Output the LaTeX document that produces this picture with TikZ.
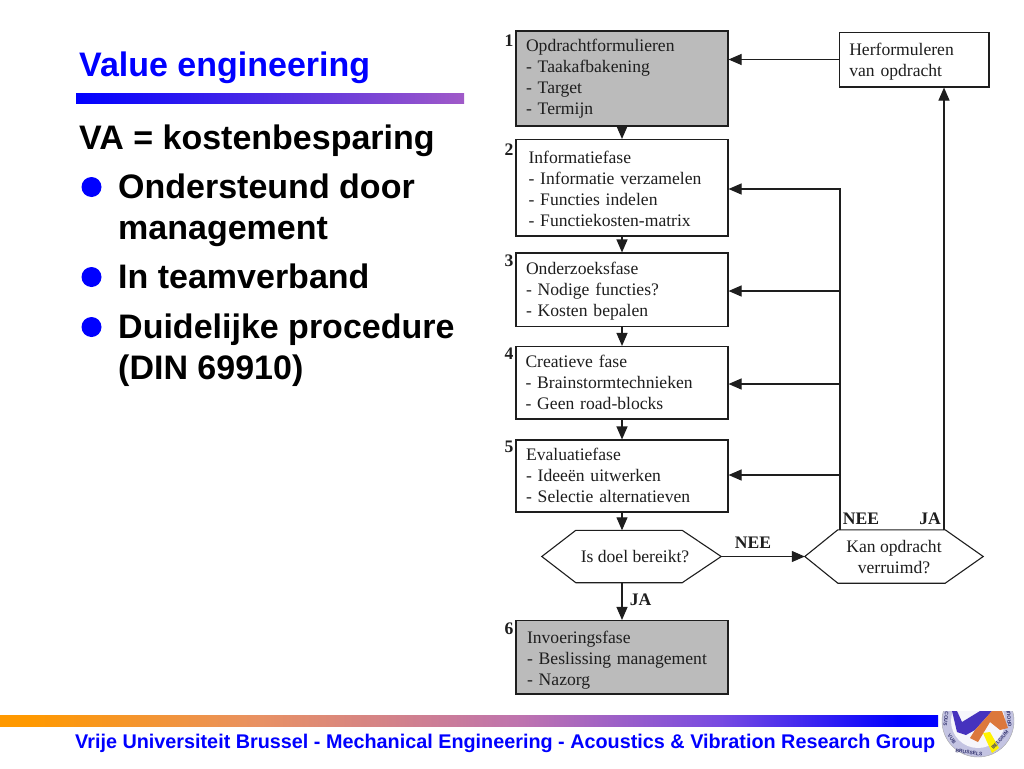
\documentclass[tikz,border=0pt]{standalone}
\usepackage{fontspec}
\setmainfont{Liberation Serif}
\newfontfamily\arialf{Liberation Sans}
\usetikzlibrary{arrows.meta,calc}
\definecolor{barblue}{RGB}{0,0,255}
\definecolor{barpurple}{RGB}{160,90,200}
\definecolor{barorange}{RGB}{255,153,0}
\definecolor{barsalmon}{RGB}{232,145,100}
\definecolor{barpink}{RGB}{190,115,175}
\definecolor{barviolet}{RGB}{120,75,225}
\definecolor{boxgrey}{RGB}{187,187,187}
\definecolor{ink}{RGB}{30,30,30}
\definecolor{logoring}{RGB}{196,196,226}
\definecolor{logotext}{RGB}{50,50,110}
\definecolor{logoblue}{RGB}{70,50,190}
\definecolor{logoorange}{RGB}{220,120,60}
\pgfdeclarehorizontalshading{footbar}{100bp}{color(0bp)=(barorange); color(26.6bp)=(barorange); color(38.9bp)=(barsalmon); color(52.8bp)=(barpink); color(63.3bp)=(barviolet); color(73bp)=(barblue); color(100bp)=(barblue)}
\tikzset{
 x=1pt,y=-1pt,
 stepbox/.style={draw=ink,line width=1.1pt,fill=white,minimum width=212pt,text width=212pt-2*#1,inner xsep=#1,inner ysep=0pt,align=left,font=\fontsize{17.6}{21}\selectfont,text=ink,anchor=center},
 greybox/.style={fill=boxgrey},
 link/.style={draw=ink,line width=1.1pt,-{Triangle[length=13pt,width=11pt]}},
 plain/.style={draw=ink,line width=1.1pt},
 stepnum/.style={font=\fontsize{17.6}{18}\bfseries\selectfont,text=ink,inner sep=0pt},
 answer/.style={font=\fontsize{17.6}{18}\bfseries\selectfont,text=ink,inner sep=0pt},
 hextext/.style={font=\fontsize{17.6}{21}\selectfont,text=ink,align=center,inner sep=0pt},
 headline/.style={font=\arialf\fontsize{34}{38}\bfseries\selectfont,text=barblue,anchor=base west,inner sep=0pt},
 bodyline/.style={font=\arialf\fontsize{34}{38}\bfseries\selectfont,text=black,anchor=base west,inner sep=0pt},
 bulletdot/.style={circle,fill=barblue,minimum size=20pt,inner sep=0pt},
 footline/.style={font=\arialf\fontsize{19.8}{22}\bfseries\selectfont,text=barblue,anchor=base west,inner sep=0pt},
 logoword/.style={font=\arialf\fontsize{5}{6}\bfseries\selectfont,text=logotext,inner sep=0pt},
}
\begin{document}
\begin{tikzpicture}
\useasboundingbox (0,0) rectangle (1024,768);
\fill[white] (0,0) rectangle (1024,768);
% left column
\node[headline] (title) at (79,76) {Value engineering};
\fill[left color=barblue,right color=barpurple] (76,93) rectangle (464,103);
\node[bodyline] (va) at (79,149) {VA = kostenbesparing};
\node[bulletdot] (d1) at (91.5,187) {};
\node[bodyline] (l1) at (118,198) {Ondersteund door};
\node[bodyline] (l1b) at (118,239) {management};
\node[bulletdot] (d2) at (91.5,277) {};
\node[bodyline] (l2) at (118,288) {In teamverband};
\node[bulletdot] (d3) at (91.5,327) {};
\node[bodyline] (l3) at (118,338) {Duidelijke procedure};
\node[bodyline] (l3b) at (118,379) {(DIN 69910)};
% step boxes
\node[stepbox=10pt,greybox,minimum height=95pt] (b1) at (622,78.5) {Opdrachtformulieren\\- Taakafbakening\\- Target\\- Termijn};
\node[stepbox=12.5pt,minimum height=96.5pt] (b2) at (622,187.75) {\rule{0pt}{15pt}Informatiefase\\- Informatie verzamelen\\- Functies indelen\\- Functiekosten-matrix};
\node[stepbox=10pt,minimum height=73.5pt] (b3) at (622,289.75) {\rule{0pt}{16pt}Onderzoeksfase\\- Nodige functies?\\- Kosten bepalen};
\node[stepbox=9.5pt,minimum height=72.5pt] (b4) at (622,382.75) {Creatieve fase\\- Brainstormtechnieken\\- Geen road-blocks};
\node[stepbox=10pt,minimum height=72pt] (b5) at (622,476) {Evaluatiefase\\- Ideeën uitwerken\\- Selectie alternatieven\rule[-2.2pt]{0pt}{0pt}};
\node[stepbox=11pt,greybox,minimum height=73.5pt] (b6) at (622,657.25) {\rule{0pt}{18pt}Invoeringsfase\\- Beslissing management\\- Nazorg};
\node[draw=ink,line width=1.1pt,fill=white,minimum width=149.5pt,minimum height=54.5pt,text width=130pt,inner xsep=9.75pt,inner ysep=0pt,align=left,font=\fontsize{17.6}{21}\selectfont,text=ink] (hf) at (914.25,59.75) {\rule{0pt}{16pt}Herformuleren\\van opdracht};
% step numbers
\node[stepnum] (n1) at (509,41) {1};
\node[stepnum] (n2) at (509,150) {2};
\node[stepnum] (n3) at (509,261) {3};
\node[stepnum] (n4) at (509,354) {4};
\node[stepnum] (n5) at (509,447) {5};
\node[stepnum] (n6) at (509,629) {6};
% decisions
\node[minimum width=179pt,minimum height=52pt,inner sep=0pt] (h1) at (631.5,556.5) {};
\node[minimum width=178pt,minimum height=53pt,inner sep=0pt] (h2) at (894,556.5) {};
\draw[plain,fill=white,line join=miter] (h1.west) -- ($(h1.north west)+(34,0)$) -- ($(h1.north east)+(-39,0)$) -- (h1.east) -- ($(h1.south east)+(-39,0)$) -- ($(h1.south west)+(34,0)$) -- cycle;
\draw[plain,fill=white,line join=miter] (h2.west) -- ($(h2.north west)+(33,0)$) -- ($(h2.north east)+(-38,0)$) -- (h2.east) -- ($(h2.south east)+(-38,0)$) -- ($(h2.south west)+(33,0)$) -- cycle;
\node[hextext] (h1t) at (635,556.5) {Is doel bereikt?};
\node[hextext] (h2t) at (894,557) {Kan opdracht\\verruimd?};
% main flow
\draw[link] (b1.south) -- (b2.north);
\draw[link] (b2.south) -- (b3.north);
\draw[link] (b3.south) -- (b4.north);
\draw[link] (b4.south) -- (b5.north);
\draw[link] (b5.south) -- (b5.south |- h1.north);
\draw[link] (b6.north |- h1.south) -- (b6.north);
\draw[link] (h1.east) -- (h2.west);
% feedback
\coordinate (ne) at (840,530);
\coordinate (ja) at (944,530);
\coordinate (t2) at (840,189);
\coordinate (t3) at (840,291);
\coordinate (t4) at (840,384);
\coordinate (t5) at (840,475);
\coordinate (t1) at (839.5,59.5);
\draw[link] (ne) -- (t2) -- (t2 -| b2.east);
\draw[link] (t3) -- (t3 -| b3.east);
\draw[link] (t4) -- (t4 -| b4.east);
\draw[link] (t5) -- (t5 -| b5.east);
\draw[link] (t1) -- (t1 -| b1.east);
\draw[link] (ja) -- (ja |- hf.south);
% answers
\node[answer] (a1) at (753,543) {NEE};
\node[answer] (a2) at (640.5,600) {JA};
\node[answer] (a3) at (861,519) {NEE};
\node[answer] (a4) at (930,519) {JA};
% footer
\fill[shading=footbar] (0,715) rectangle (938,726);
\node[footline] (foot) at (75,748) {Vrije Universiteit Brussel - Mechanical Engineering - Acoustics \& Vibration Research Group};
% logo
\begin{scope}
\clip (930,711) rectangle (1024,768);
\fill[logoring,draw=gray!70] (978,721) circle (36);
\fill[white!85!logoring] (978,721) circle (27);
\fill[logoblue] (952,711) -- (957,711) -- (962,722) -- (980,711) -- (992,711) -- (975,730) -- (966,735) -- (957,732) -- cycle;
\fill[logoorange] (975,730) -- (992,711) -- (1002,711) -- (1008,728) -- (1000,730) -- (990,722) -- (978,742) -- (970,738) -- cycle;
\fill[yellow] (983,733) -- (990,732) -- (999,748) -- (992,753) -- cycle;
\node[logoword,rotate=-97] (lw1) at (946.2,717) {ACOUS};
\node[logoword,rotate=-55] (lw2) at (951.8,739) {VUB};
\node[logoword,rotate=-8] (lw3) at (969,752.5) {BRUSSELS};
\node[logoword,rotate=48] (lw4) at (1000,740) {BELGIUM};
\node[logoword,rotate=95] (lw5) at (1009,718) {GROUP};
\end{scope}
\end{tikzpicture}
\end{document}
